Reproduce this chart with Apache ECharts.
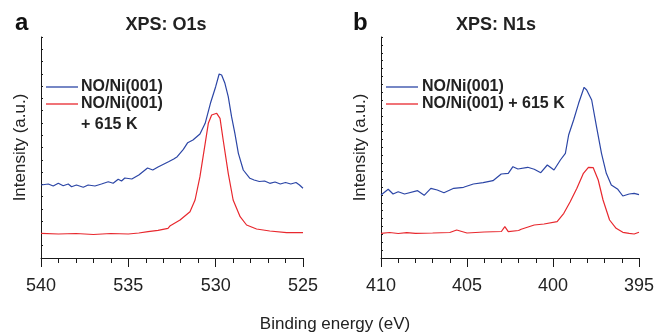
<!DOCTYPE html>
<html>
<head>
<meta charset="utf-8">
<script src="https://cdn.jsdelivr.net/npm/echarts@6/dist/echarts.min.js"></script>
<style>
  html, body { margin: 0; padding: 0; background: #fff; }
  #chart { width: 657px; height: 333px; }
</style>
</head>
<body>
<div id="chart"></div>
<script>
// binding energy (eV), intensity (a.u.)
const o1sClean = [
  [540, 73], [539.58, 74], [539.3, 72], [539.01, 74.7], [538.73, 72.3], [538.44, 74],
  [538.25, 71.3], [537.97, 73], [537.58, 70.7], [537.3, 73], [536.91, 72], [536.54, 74],
  [536.15, 76.3], [535.87, 74.7], [535.58, 78.7], [535.39, 77], [535.2, 80], [534.8, 79],
  [534.4, 83], [533.9, 90], [533.6, 88], [533.3, 91], [532.7, 96.3], [532.4, 99],
  [532.2, 101.3], [531.85, 108.7], [531.6, 115.3], [531.3, 118], [530.9, 124],
  [530.6, 134.7], [530.3, 154.7], [530.0, 171.3], [529.8, 184], [529.66, 183],
  [529.47, 174.7], [529.28, 161.3], [529.09, 141.3], [528.9, 124.7], [528.7, 104.7],
  [528.42, 88], [528.04, 79.7], [527.8, 78], [527.5, 76.5], [527.2, 77], [526.9, 74.7],
  [526.6, 76], [526.3, 74], [526.0, 75.5], [525.7, 74], [525.4, 75.5], [525.2, 73],
  [525, 69.7]
]
const o1sAnnealed = [
  [540, 24.7], [539, 24], [538, 24.5], [537, 23.5], [536, 24.5], [535, 24],
  [534.4, 25], [533.87, 26.3], [533.3, 27.7], [532.73, 29.7], [532.6, 32.3],
  [532.04, 38], [531.47, 46.3], [531.18, 58], [530.9, 81.3], [530.6, 114.7],
  [530.42, 134.7], [530.23, 143], [529.94, 144.7], [529.75, 139.7], [529.57, 118],
  [529.28, 84.7], [529, 58], [528.6, 41.3], [528.23, 33], [527.66, 29], [526.9, 27],
  [525.94, 25.3], [525, 25.3]
]
const n1sClean = [
  [410, 63], [409.58, 68.7], [409.3, 64], [409, 66.3], [408.63, 64], [407.87, 67.3],
  [407.49, 62.7], [407.1, 69.7], [406.73, 68], [406.34, 65.3], [405.77, 69.7],
  [405.2, 70.7], [404.63, 74], [404.06, 75.3], [403.49, 77.3], [403.01, 84],
  [402.6, 84.7], [402.33, 91.3], [402.04, 89], [401.47, 90.7], [401.09, 88.7],
  [400.71, 85.3], [400.33, 93], [399.94, 88], [399.57, 98], [399.28, 104.7],
  [399.09, 123], [398.8, 138], [398.51, 154.7], [398.19, 170.7], [398.04, 168],
  [397.75, 158], [397.47, 131.3], [397.18, 104.7], [396.9, 84.7], [396.61, 73],
  [396.23, 68.7], [395.94, 62], [395.57, 64], [395.28, 64.7], [395, 63.3]
]
const n1sAnnealed = [
  [410, 24.7], [409.5, 25.5], [409, 24.5], [408.5, 25.3], [408, 24.7], [407, 25],
  [406, 25.5], [405.6, 28], [405, 25], [404, 26], [403, 26.5], [402.8, 31.3],
  [402.6, 26.3], [402, 27.5], [401.85, 28.7], [401.09, 33], [400.52, 34],
  [399.76, 36.3], [399.37, 44.7], [399, 56.3], [398.61, 69.7], [398.23, 84.7],
  [397.94, 90.7], [397.66, 90.3], [397.37, 78], [397.09, 58], [396.71, 38],
  [396.33, 29.7], [395.94, 25.7], [395.57, 24.7], [395.28, 24], [395, 25.7]
]
const o1sRange = [525, 540]
const n1sRange = [395, 410]
const xTickStep = 5
const yMax = 221
const yTickCountA = 18 // unlabeled ticks on the intensity axes
const yTickCountB = 28

const labelNames = ['NO/Ni(001)', 'NO/Ni(001)', '+ 615 K', 'NO/Ni(001)', 'NO/Ni(001) + 615 K']

const FONT = '"Liberation Sans", Arial, sans-serif'
const BLUE = '#2c46a6'
const RED = '#e8282e'
const AXIS = '#1a1a1a'

const chart = echarts.init(document.getElementById('chart'))

function xAxisFor(range, gridIndex) {
  return {
    type: 'value',
    gridIndex,
    min: range[0],
    max: range[1],
    interval: xTickStep,
    inverse: true,
    axisLine: { lineStyle: { color: AXIS, width: 1 } },
    axisTick: { length: 9, lineStyle: { color: AXIS } },
    minorTick: { show: true, splitNumber: 5, length: 5, lineStyle: { color: AXIS } },
    splitLine: { show: false },
    axisLabel: { fontFamily: FONT, fontSize: 18, color: '#222', margin: 19 }
  }
}

function yAxisFor(ticks, gridIndex) {
  return {
    type: 'value',
    gridIndex,
    min: 0,
    max: yMax,
    interval: yMax / ticks,
    name: 'Intensity (a.u.)',
    nameLocation: 'middle',
    nameGap: 12,
    nameTextStyle: { fontFamily: FONT, fontSize: 17, color: '#222' },
    axisLine: { show: true, lineStyle: { color: AXIS, width: 1 } },
    axisTick: { inside: true, length: 2, lineStyle: { color: AXIS } },
    axisLabel: { show: false },
    splitLine: { show: false }
  }
}

function spectrum(name, data, color, idx) {
  return {
    name,
    type: 'line',
    xAxisIndex: idx,
    yAxisIndex: idx,
    data,
    showSymbol: false,
    silent: true,
    lineStyle: { color, width: 1.2 },
    itemStyle: { color }
  }
}

function legendLine(x, y, color) {
  return { type: 'line', shape: { x1: x, y1: y, x2: x + 32, y2: y }, style: { stroke: color, lineWidth: 1.3 } }
}
function legendText(x, y, text) {
  return {
    type: 'text', x, y,
    style: { text, fontFamily: FONT, fontSize: 16, fontWeight: 'bold', fill: '#222', verticalAlign: 'middle' }
  }
}

const option = {
  animation: false,
  backgroundColor: '#fff',
  title: [
    { text: 'a', left: 10, top: 6, textStyle: { fontFamily: FONT, fontSize: 24, fontWeight: 'bold', color: '#111' } },
    { text: 'XPS: O1s', left: 161, top: 11, textAlign: 'center', textStyle: { fontFamily: FONT, fontSize: 18, fontWeight: 'bold', color: '#222' } },
    { text: 'b', left: 348, top: 6, textStyle: { fontFamily: FONT, fontSize: 24, fontWeight: 'bold', color: '#111' } },
    { text: 'XPS: N1s', left: 491, top: 11, textAlign: 'center', textStyle: { fontFamily: FONT, fontSize: 18, fontWeight: 'bold', color: '#222' } },
    { text: 'Binding energy (eV)', left: 330, top: 311, textAlign: 'center', textStyle: { fontFamily: FONT, fontSize: 17, fontWeight: 'normal', color: '#222' } }
  ],
  grid: [
    { left: 41, top: 37, width: 262, height: 221 },
    { left: 381, top: 37, width: 262, height: 221 }
  ],
  xAxis: [xAxisFor(o1sRange, 0), xAxisFor(n1sRange, 1)],
  yAxis: [yAxisFor(yTickCountA, 0), yAxisFor(yTickCountB, 1)],
  series: [
    spectrum('O1s NO/Ni(001)', o1sClean, BLUE, 0),
    spectrum('O1s NO/Ni(001) + 615 K', o1sAnnealed, RED, 0),
    spectrum('N1s NO/Ni(001)', n1sClean, BLUE, 1),
    spectrum('N1s NO/Ni(001) + 615 K', n1sAnnealed, RED, 1)
  ],
  graphic: [
    legendLine(46, 87, BLUE), legendText(81, 87, labelNames[0]),
    legendLine(46, 104, RED), legendText(81, 104, labelNames[1]),
    legendText(81, 125, labelNames[2]),
    legendLine(386, 87, BLUE), legendText(422, 87, labelNames[3]),
    legendLine(386, 104, RED), legendText(422, 104, labelNames[4])
  ]
}

chart.setOption(option)
</script>
</body>
</html>
